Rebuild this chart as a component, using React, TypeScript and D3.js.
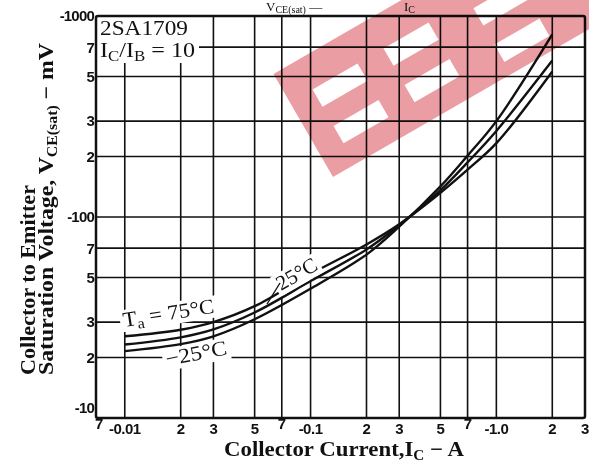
import React from 'react';
import * as d3 from 'd3';

const WIDTH = 589;
const HEIGHT = 470;
const PLOT = { left: 96, right: 585, top: 16, bottom: 418 };
const SERIF = '"Liberation Serif", "DejaVu Serif", serif';
const SANS = '"Liberation Sans", Arial, sans-serif';
const INK = '#111';
const PINK = '#ea9ea4';

// collector current (A) and |VCE(sat)| (mV)
const currents = [0.01, 0.02, 0.03, 0.05, 0.1, 0.2, 0.3, 0.5, 0.7, 1.0, 2.0];
const vce75 = [25.5, 27.5, 30.0, 36.0, 52, 73, 92, 132, 172, 233, 530];
const vce25 = [23.2, 25.2, 27.6, 33.5, 48, 69, 91, 136, 187, 268, 600];
const vceM25 = [21.5, 23.3, 25.5, 31.0, 44, 65, 89.5, 142, 202, 300, 810];

const xTicks = [0.007, 0.01, 0.02, 0.03, 0.05, 0.07, 0.1, 0.2, 0.3, 0.5, 0.7, 1, 2, 3];
const xTickLabels = ['7', '-0.01', '2', '3', '5', '7', '-0.1', '2', '3', '5', '7', '-1.0', '2', '3'];
const yTicks = [10, 20, 30, 50, 70, 100, 200, 300, 500, 700, 1000];
const yTickLabels = ['-10', '2', '3', '5', '7', '-100', '2', '3', '5', '7', '-1000'];

// watermark letters: offset along the band and slot drop
const markLetters = [0, 82, 180];
const markDrops = [0, 0, 10];

const x = d3.scaleLog().domain([0.007, 3]).range([PLOT.left, PLOT.right]);
const y = d3.scaleLog().domain([10, 1000]).range([PLOT.bottom, PLOT.top]);

const line = d3.line<number>()
  .x((d, i) => x(currents[i]))
  .y((d) => y(d))
  .curve(d3.curveCatmullRom.alpha(0.5));

/**
 * Rotated curve label with a white patch behind it
 */
function Note({ tx, ty, angle, w, children }: any) {
  return <g transform={`translate(${tx},${ty}) rotate(${angle})`}>
    <rect x={-3} y={-17} width={w + 6} height={22} fill='white' />
    <text fontFamily={SERIF} fontSize={21} fill={INK} textLength={w} lengthAdjust='spacingAndGlyphs'>{children}</text>
  </g>;
}

export default function App() {
  const gridX = xTicks.filter((v) => v > 0.007 && v < 3);
  const gridY = yTicks.filter((v) => v > 10 && v < 1000);

  return <div style={{ position: 'absolute', left: 0, top: 0 }}>
    <svg width={WIDTH} height={HEIGHT} style={{ display: 'block', background: 'white' }}>
      {/* grid */}
      <g stroke={INK} strokeWidth={1.6}>
        {gridX.map((v) => <line key={'x' + v} x1={x(v)} x2={x(v)} y1={PLOT.top} y2={PLOT.bottom} />)}
        {gridY.map((v) => <line key={'y' + v} x1={PLOT.left} x2={PLOT.right} y1={y(v)} y2={y(v)} />)}
      </g>

      {/* device box */}
      <rect x={PLOT.left + 1} y={PLOT.top + 1} width={102} height={46} fill='white' />
      <text x={100} y={35} fontFamily={SERIF} fontSize={20} fill={INK} textLength={88} lengthAdjust='spacingAndGlyphs'>2SA1709</text>
      <text x={100} y={57} fontFamily={SERIF} fontSize={20} fill={INK} textLength={95} lengthAdjust='spacingAndGlyphs'>
        I<tspan fontSize={14} dy={4}>C</tspan><tspan dy={-4}>/I</tspan><tspan fontSize={14} dy={4}>B</tspan><tspan dy={-4}> = 10</tspan>
      </text>

      {/* curves */}
      <g fill='none' stroke={INK} strokeWidth={2.4}>
        <path d={line(vce75) || ''} />
        <path d={line(vce25) || ''} />
        <path d={line(vceM25) || ''} />
      </g>

      {/* curve labels */}
      <Note tx={124} ty={327} angle={-9} w={92}>
        T<tspan fontSize={15} dy={4}>a</tspan><tspan dy={-4}> = 75°C</tspan>
      </Note>
      <Note tx={167} ty={366} angle={-11} w={62}>−25°C</Note>
      <Note tx={281} ty={291} angle={-30} w={44}>25°C</Note>
      <line x1={267} y1={304} x2={280} y2={283} stroke={INK} strokeWidth={1.4} />

      {/* frame */}
      <rect x={PLOT.left} y={PLOT.top} width={PLOT.right - PLOT.left} height={PLOT.bottom - PLOT.top}
        fill='none' stroke={INK} strokeWidth={2.5} rx={2} />

      {/* y ticks */}
      <g fontFamily={SANS} fontWeight='bold' fontSize={15} fill={INK} textAnchor='end' letterSpacing={-0.8}>
        {yTicks.map((v, i) => <text key={v} x={94} y={Math.min(y(v), 408)} dy='0.36em'>{yTickLabels[i]}</text>)}
      </g>

      {/* x ticks */}
      <g fontFamily={SANS} fontWeight='bold' fontSize={15} fill={INK} textAnchor='middle' letterSpacing={-0.5}>
        {xTicks.map((v, i) => <text key={v} x={Math.max(x(v), PLOT.left + 3)} y={xTickLabels[i] === '7' ? 429 : 434}>{xTickLabels[i]}</text>)}
      </g>

      {/* axis titles */}
      <text x={224} y={456} fontFamily={SERIF} fontWeight='bold' fontSize={21} fill={INK}
        textLength={240} lengthAdjust='spacingAndGlyphs'>
        Collector Current,I<tspan fontSize={14} dy={4}>C</tspan><tspan dy={-4}> − A</tspan>
      </text>
      <text transform='translate(35,375) rotate(-90)' fontFamily={SERIF} fontWeight='bold' fontSize={21} fill={INK}
        textLength={190} lengthAdjust='spacingAndGlyphs'>
        Collector to Emitter
      </text>
      <text transform='translate(53,375) rotate(-90)' fontFamily={SERIF} fontWeight='bold' fontSize={21} fill={INK}
        textLength={332} lengthAdjust='spacingAndGlyphs'>
        Saturation Voltage, V<tspan fontSize={14} dy={4}>CE(sat)</tspan><tspan dy={-4}> − mV</tspan>
      </text>

      {/* chart title above the frame */}
      <text x={266} y={11} fontFamily={SERIF} fontSize={13} fill={INK}>
        V<tspan fontSize={10} dy={2}>CE(sat)</tspan><tspan dy={-2}> — </tspan>
      </text>
      <text x={404} y={11} fontFamily={SERIF} fontSize={13} fill={INK}>
        I<tspan fontSize={10} dy={2}>C</tspan>
      </text>

      {/* watermark */}
      <g transform='translate(333,177) rotate(-30)' style={{ mixBlendMode: 'multiply' }}>
        <rect x={0} y={-119} width={420} height={119} fill={PINK} />
        {markLetters.map((ox, i) => <g key={ox} fill='white'>
          <rect x={ox + 26} y={-86 + markDrops[i]} width={52} height={20} />
          <rect x={ox + 26} y={-44 + markDrops[i]} width={52} height={20} />
        </g>)}
      </g>
    </svg>
  </div>;
}
